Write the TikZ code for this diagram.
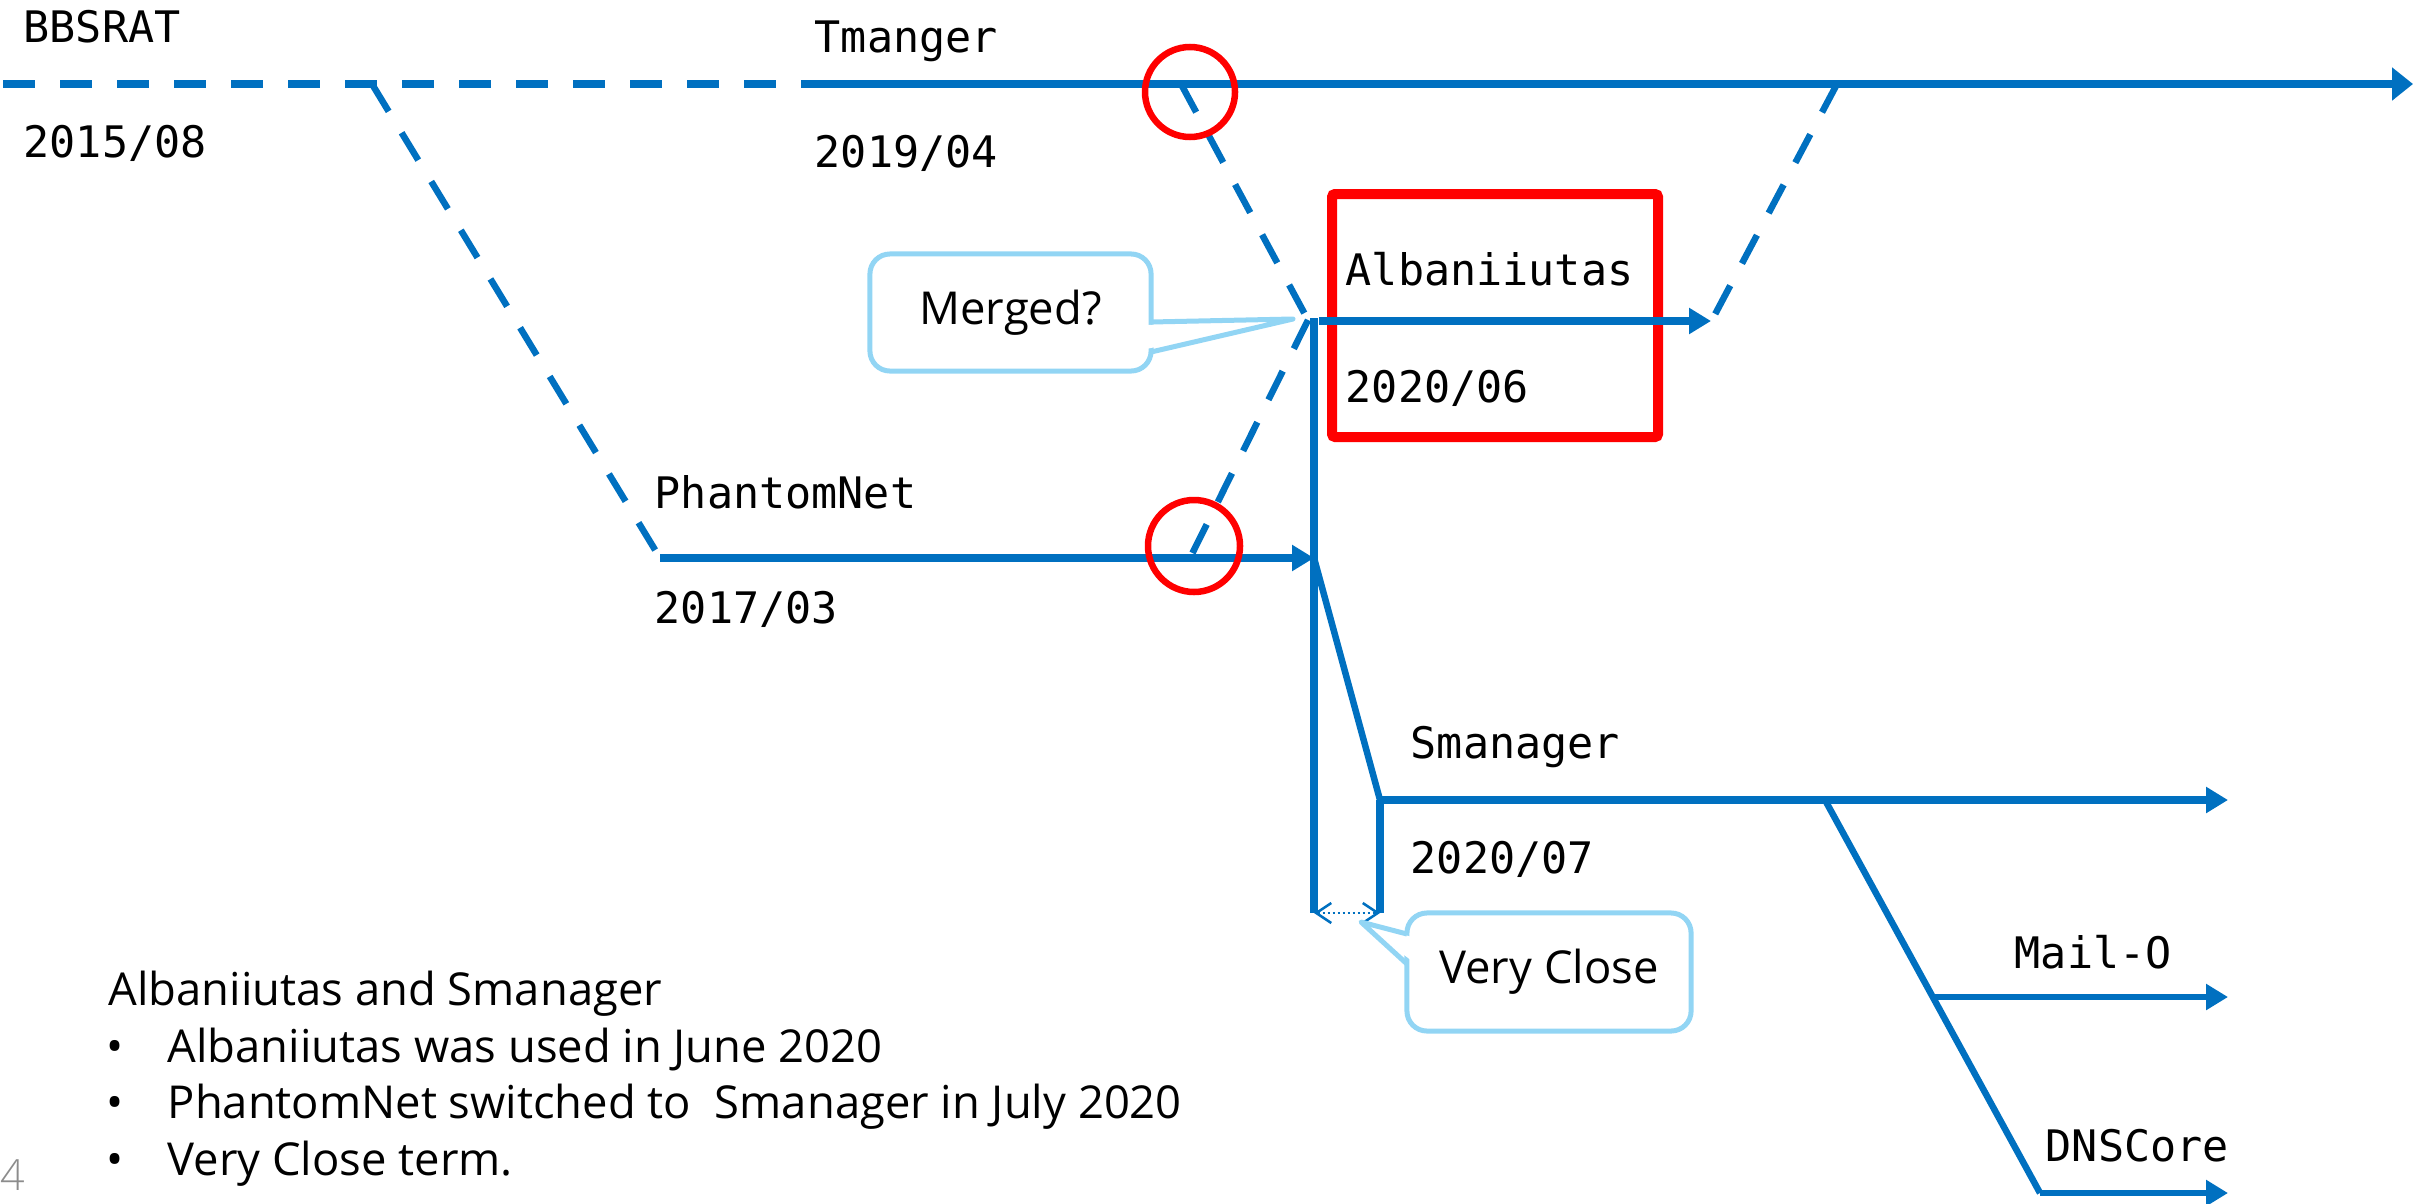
\documentclass[tikz,border=0pt]{standalone}
\usepackage{fontspec}
\setmainfont{Open Sans}
\newfontfamily\codefont{DejaVu Sans Mono}
\newfontfamily\lightfont{Open Sans Light}
\usetikzlibrary{arrows.meta}
\definecolor{lineblue}{HTML}{0070C0}
\definecolor{calloutblue}{HTML}{92D5F4}
\definecolor{markred}{HTML}{FF0000}
\definecolor{pagegray}{HTML}{8C8C8C}

\tikzset{
  maintl/.style={draw=lineblue, line width=0.085cm},
  tl/.style={draw=lineblue, line width=0.075cm},
  thintl/.style={draw=lineblue, line width=0.065cm},
  dashedtl/.style={dash pattern=on 0.32cm off 0.25cm},
  endtip/.style={-{Triangle[length=0.22cm,width=0.25cm]}},
  bigtip/.style={-{Triangle[length=0.21cm,width=0.32cm]}},
  lbl/.style={inner sep=0, anchor=base west, font=\codefont\fontsize{12.35}{14}\selectfont},
  notetext/.style={inner sep=0, anchor=base west, font=\fontsize{12.9}{15}\selectfont},
  redring/.style={draw=markred, line width=0.065cm},
  calloutbox/.style={draw=calloutblue, line width=0.05cm, fill=white, rounded corners=0.2cm,
    inner sep=0, font=\fontsize{12.9}{15}\selectfont},
  calloutleg/.style={draw=calloutblue, line width=0.05cm, line join=round},
}

\begin{document}
\begin{tikzpicture}[x=0.01cm, y=-0.01cm]
\useasboundingbox (0,0) rectangle (2413,1203);

% key points of the timeline
\coordinate (bbStart) at (3,84);
\coordinate (bbFork) at (372,84);
\coordinate (tmStart) at (814,84);
\coordinate (tmFork) at (1181,84);
\coordinate (tmRejoin) at (1837,84);
\coordinate (tmEnd) at (2413,84);
\coordinate (pnStart) at (660,558);
\coordinate (pnFork) at (1190,558);
\coordinate (pnEnd) at (1314,558);
\coordinate (alJoin) at (1308,320);
\coordinate (trunkTop) at (1314,318);
\coordinate (trunkBot) at (1314,913);
\coordinate (alStart) at (1319,321);
\coordinate (alEnd) at (1711,321);
\coordinate (alRejoin) at (1712,320);
\coordinate (smStart) at (1380,800);
\coordinate (smBot) at (1380,913);
\coordinate (smFork) at (1825,800);
\coordinate (smEnd) at (2228,800);
\coordinate (mailStart) at (1933,997);
\coordinate (mailEnd) at (2228,997);
\coordinate (dnsStart) at (2040,1193);
\coordinate (dnsEnd) at (2228,1193);

% highlight box round Albaniiutas
\draw[markred, line width=0.1cm, rounded corners=0.03cm] (1332,194) rectangle (1658,437);

% BBSRAT / Tmanger line
\draw[maintl, dashedtl] (bbStart) -- (tmStart);
\draw[maintl, bigtip] (tmStart) -- (tmEnd);

% PhantomNet
\draw[thintl, dashedtl] (bbFork) -- (pnStart);
\draw[tl, endtip] (pnStart) -- (pnEnd);

% Albaniiutas
\draw[thintl, dashedtl] (tmFork) -- (alJoin);
\draw[thintl, dashedtl] (alJoin) -- (pnFork);
\draw[tl] (trunkTop) -- (trunkBot);
\draw[tl, endtip] (alStart) -- (alEnd);
\draw[thintl, dashedtl] (tmRejoin) -- (alRejoin);

% Smanager and its branches
\draw[thintl] (pnEnd) -- (smStart);
\draw[tl] (smStart) -- (smBot);
\draw[tl, endtip] (smStart) -- (smEnd);
\draw[thintl] (smFork) -- (dnsStart);
\draw[thintl, endtip] (mailStart) -- (mailEnd);
\draw[thintl, endtip] (dnsStart) -- (dnsEnd);

% gap between the two versions
\draw[lineblue, line width=0.025cm, dash pattern=on 0.025cm off 0.025cm,
  {Straight Barb[length=0.15cm,width=0.2cm]}-{Straight Barb[length=0.15cm,width=0.2cm]}]
  (trunkBot) -- (smBot);

% marked crossings
\draw[redring] (1190,92) circle[radius=45];
\draw[redring] (1194,546) circle[radius=46];

% labels
\node[lbl] (bbName) at (23,42) {BBSRAT};
\node[lbl] (bbDate) at (23,157) {2015/08};
\node[lbl] (tmName) at (814,52) {Tmanger};
\node[lbl] (tmDate) at (814,167) {2019/04};
\node[lbl] (pnName) at (654,508) {PhantomNet};
\node[lbl] (pnDate) at (654,623) {2017/03};
\node[lbl] (alName) at (1345,285) {Albaniiutas};
\node[lbl] (alDate) at (1345,402) {2020/06};
\node[lbl] (smName) at (1410,758) {Smanager};
\node[lbl] (smDate) at (1410,873) {2020/07};
\node[lbl] (mailName) at (2014,968) {Mail-O};
\node[lbl] (dnsName) at (2045,1161) {DNSCore};

% callouts
\node[calloutbox, minimum width=2.81cm, minimum height=1.17cm] (merged) at (1010.5,312.5) {Merged?};
\coordinate (mergedTip) at (1293,319);
\fill[white] (1146,325) -- (mergedTip) -- (1146,349) -- cycle;
\draw[calloutleg] (1151,322) -- (mergedTip) -- (1151,352);

\node[calloutbox, minimum width=2.84cm, minimum height=1.18cm] (close) at (1549,972) {Very Close};
\coordinate (closeTip) at (1361,922);
\fill[white] (1412,937) -- (closeTip) -- (1412,961) -- cycle;
\draw[calloutleg] (1407,934) -- (closeTip) -- (1407,964);

% summary
\node[notetext] (sumHead) at (108,1005) {Albaniiutas and Smanager};
\node[notetext] (sumB1) at (106,1062) {•};
\node[notetext] (sumL1) at (167,1062) {Albaniiutas was used in June 2020};
\node[notetext] (sumB2) at (106,1118) {•};
\node[notetext] (sumL2) at (167,1118) {PhantomNet switched to \ Smanager in July 2020};
\node[notetext] (sumB3) at (106,1175) {•};
\node[notetext] (sumL3) at (167,1175) {Very Close term.};
\node[inner sep=0, anchor=base west, text=pagegray, font=\lightfont\fontsize{12.2}{14}\selectfont] (pageNo) at (0,1190) {4};
\end{tikzpicture}
\end{document}
